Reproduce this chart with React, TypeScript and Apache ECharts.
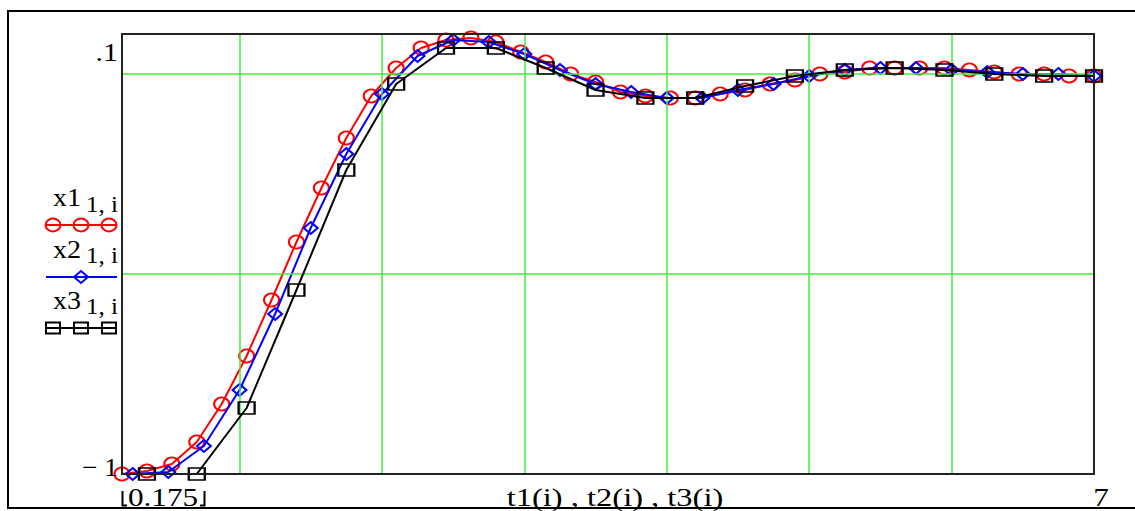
import React, { useEffect, useRef } from "react";
import * as echarts from "echarts";

const t1 = [0.175, 0.35, 0.525, 0.7, 0.875, 1.05, 1.225, 1.4, 1.575, 1.75, 1.925, 2.1, 2.275, 2.45, 2.625, 2.8, 2.975, 3.15, 3.325, 3.5, 3.675, 3.85, 4.025, 4.2, 4.375, 4.55, 4.725, 4.9, 5.075, 5.25, 5.425, 5.6, 5.775, 5.95, 6.125, 6.3, 6.475, 6.65, 6.825, 7.0];
const x1 = [-1.0, -0.985, -0.95, -0.84, -0.65, -0.41, -0.13, 0.16, 0.43, 0.68, 0.89, 1.03, 1.13, 1.17, 1.18, 1.16, 1.11, 1.06, 1.0, 0.96, 0.91, 0.89, 0.88, 0.88, 0.9, 0.92, 0.95, 0.97, 1.0, 1.01, 1.03, 1.03, 1.03, 1.03, 1.02, 1.01, 1.0, 1.0, 0.99, 0.99];

const t2 = [0.25, 0.5, 0.75, 1.0, 1.25, 1.5, 1.75, 2.0, 2.25, 2.5, 2.75, 3.0, 3.25, 3.5, 3.75, 4.0, 4.25, 4.5, 4.75, 5.0, 5.25, 5.5, 5.75, 6.0, 6.25, 6.5, 6.75, 7.0];
const x2 = [-1.0, -0.99, -0.86, -0.58, -0.2, 0.23, 0.6, 0.9, 1.09, 1.17, 1.16, 1.1, 1.02, 0.95, 0.91, 0.88, 0.88, 0.92, 0.95, 0.99, 1.02, 1.03, 1.03, 1.02, 1.01, 1.0, 1.0, 0.99];

const t3 = [0.35, 0.7, 1.05, 1.4, 1.75, 2.1, 2.45, 2.8, 3.15, 3.5, 3.85, 4.2, 4.55, 4.9, 5.25, 5.6, 5.95, 6.3, 6.65, 7.0];
const x3 = [-1.0, -1.0, -0.67, -0.08, 0.52, 0.95, 1.13, 1.13, 1.03, 0.92, 0.88, 0.88, 0.94, 0.99, 1.02, 1.03, 1.02, 1.0, 0.99, 0.99];

const xGridLines = [1, 2, 3, 4, 5, 6, 7];
const yGridLines = [0, 1];
const xMin = 0.175;
const xMax = 7;
const yMin = -1;
const yMax = 1.2;

const yTopLabel = ".1";
const yBottomLabel = "\u2212 1";
const xLeftLabel = "0.175";
const xRightLabel = "7";
const xTitle = "t1(i) , t2(i) , t3(i)";
const legendNames = ["x1", "x2", "x3"];
const legendSub = "1, i";

const FONT = "Liberation Serif";
const RED = "#ff0000";
const BLUE = "#0000ff";
const BLACK = "#000000";
const GREEN = "#3cf03c";

export default function App() {
  const ref = useRef<HTMLDivElement>(null);
  useEffect(() => {
    if (!ref.current) return;
    const chart = echarts.init(ref.current, null, { renderer: "svg" });
    const pairs = (t: number[], v: number[]) => t.map((tt, i) => [tt, v[i]]);
    const txt = (text: string, x: number, y: number, align: string, size: number, sx: number) => ({
      type: "text",
      x,
      y,
      scaleX: sx,
      z: 50,
      style: { text, fill: "#000", font: `${size}px "${FONT}"`, align, verticalAlign: "middle" },
    });
    const legendY = [225, 277, 328];
    const legendMainY = [197.5, 249, 300];
    const legendSubY = [204, 255, 306];
    const graphic: any[] = [
      {
        type: "rect",
        shape: { x: 8, y: 11, width: 1140, height: 497 },
        style: { fill: "none", stroke: "#000", lineWidth: 2 },
        z: 40,
      },
      txt(yTopLabel, 118, 52, "right", 26, 1.15),
      txt(yBottomLabel, 118, 467.5, "right", 26, 1.05),
      txt(xLeftLabel, 163, 497, "center", 26, 1.2),
      txt(xRightLabel, 1101, 497, "center", 26, 1.2),
      txt(xTitle, 615, 497, "center", 26, 1.25),
      {
        type: "polyline",
        shape: { points: [[122.5, 491], [122.5, 505.5], [127, 505.5]] },
        style: { stroke: "#000", lineWidth: 2, fill: "none" },
        z: 50,
      },
      {
        type: "polyline",
        shape: { points: [[200, 505.5], [204.5, 505.5], [204.5, 491]] },
        style: { stroke: "#000", lineWidth: 2, fill: "none" },
        z: 50,
      },
    ];
    legendNames.forEach((n, i) => {
      graphic.push(txt(n, 81, legendMainY[i], "right", 26, 1.08));
      graphic.push(txt(legendSub, 118, legendSubY[i], "right", 23, 1.09));
    });
    const colors = [RED, BLUE, BLACK];
    colors.forEach((c, i) => {
      graphic.push({
        type: "line",
        shape: { x1: 46, y1: legendY[i], x2: 117, y2: legendY[i] },
        style: { stroke: c, lineWidth: 2 },
        z: 50,
      });
    });
    [53, 81, 109].forEach((cx) => {
      graphic.push({
        type: "ellipse",
        shape: { cx, cy: legendY[0], rx: 7.5, ry: 6.5 },
        style: { fill: "none", stroke: RED, lineWidth: 2 },
        z: 51,
      });
      graphic.push({
        type: "rect",
        shape: { x: cx - 7, y: legendY[2] - 5.5, width: 14, height: 11 },
        style: { fill: "none", stroke: BLACK, lineWidth: 2 },
        z: 51,
      });
    });
    graphic.push({
      type: "polygon",
      shape: { points: [[81, legendY[1] - 6], [88, legendY[1]], [81, legendY[1] + 6], [74, legendY[1]]] },
      style: { fill: "none", stroke: BLUE, lineWidth: 2 },
      z: 51,
    });

    const mk = (name: string, t: number[], v: number[], color: string, symbol: string, size: number[], z: number) => ({
      name,
      type: "line",
      data: pairs(t, v),
      symbol,
      symbolSize: size,
      showAllSymbol: true,
      clip: true,
      z,
      lineStyle: { color, width: 2 },
      itemStyle: { color: "rgba(0,0,0,0)", borderColor: color, borderWidth: 2 },
      emphasis: { disabled: true },
    });

    chart.setOption({
      animation: false,
      grid: { left: 122, top: 34, width: 972, height: 440, show: true, borderColor: "#222", borderWidth: 2, z: 10 },
      xAxis: {
        type: "value",
        min: xMin,
        max: xMax,
        axisLine: { show: false },
        axisTick: { show: false },
        axisLabel: { show: false },
        splitLine: { show: false },
      },
      yAxis: {
        type: "value",
        min: yMin,
        max: yMax,
        axisLine: { show: false },
        axisTick: { show: false },
        axisLabel: { show: false },
        splitLine: { show: false },
      },
      series: [
        {
          type: "line",
          data: [[xMax, yMax]],
          showSymbol: false,
          lineStyle: { width: 0 },
          z: 1,
          silent: true,
          markLine: {
            silent: true,
            symbol: ["none", "none"],
            label: { show: false },
            lineStyle: { color: GREEN, width: 1.5, type: "solid" },
            emphasis: { disabled: true },
            data: [
              ...xGridLines.map((v) => ({ xAxis: v })),
              ...yGridLines.map((v) => ({ yAxis: v })),
            ],
          },
        },
        mk("x1", t1, x1, RED, "circle", [15, 13], 3),
        mk("x2", t2, x2, BLUE, "diamond", [14, 12], 4),
        mk("x3", t3, x3, BLACK, "rect", [16, 12], 5),
      ],
      graphic,
    });
    return () => chart.dispose();
  }, []);
  return <div ref={ref} style={{ position: "absolute", left: 0, top: 0, width: 1135, height: 511, background: "#fff" }} />;
}
